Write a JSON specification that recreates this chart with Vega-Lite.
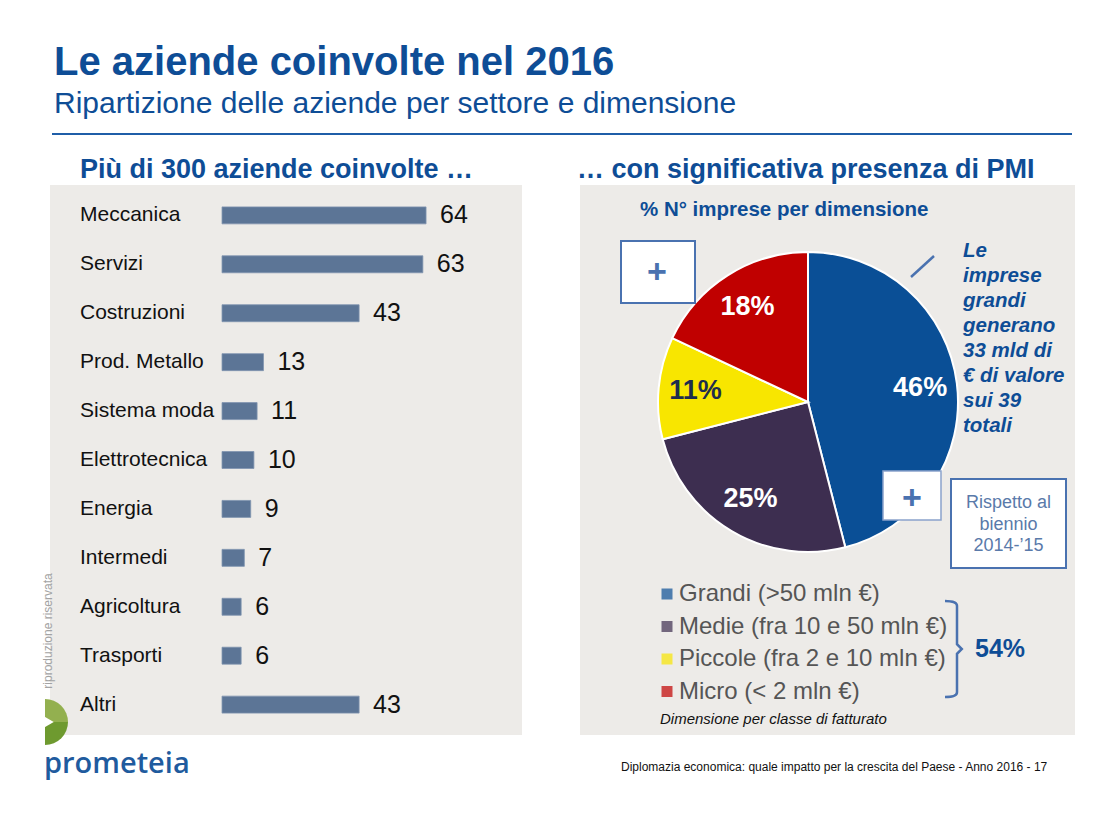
{
  "$schema": "https://vega.github.io/schema/vega-lite/v6.json",
  "background": "white",
  "autosize": {"type": "pad"},
  "padding": {"left": 42, "top": 43, "right": 0, "bottom": 20},
  "config": {"font": "Liberation Sans", "view": {"stroke": null}},
  "title": {
    "text": "Le aziende coinvolte nel 2016",
    "subtitle": "Ripartizione delle aziende per settore e dimensione",
    "anchor": "start", "frame": "group", "dx": 4,
    "font": "Liberation Sans", "fontSize": 40, "fontWeight": "bold", "color": "#0e4d96",
    "subtitleFont": "Liberation Sans", "subtitleFontSize": 30, "subtitleColor": "#0e4d96",
    "subtitlePadding": 6, "offset": 14
  },
  "datasets": {
    "sectors": [
      {"settore": "Meccanica", "n": 64},
      {"settore": "Servizi", "n": 63},
      {"settore": "Costruzioni", "n": 43},
      {"settore": "Prod. Metallo", "n": 13},
      {"settore": "Sistema moda", "n": 11},
      {"settore": "Elettrotecnica", "n": 10},
      {"settore": "Energia", "n": 9},
      {"settore": "Intermedi", "n": 7},
      {"settore": "Agricoltura", "n": 6},
      {"settore": "Trasporti", "n": 6},
      {"settore": "Altri", "n": 43}
    ],
    "sizes": [
      {"dimensione": "Grandi (>50 mln €)", "pct": 0.46, "ord": 1},
      {"dimensione": "Medie (fra 10 e 50 mln €)", "pct": 0.25, "ord": 2},
      {"dimensione": "Piccole (fra 2 e 10 mln €)", "pct": 0.11, "ord": 3},
      {"dimensione": "Micro (< 2 mln €)", "pct": 0.18, "ord": 4}
    ]
  },
  "vconcat": [
    {
      "width": 1022, "height": 2,
      "data": {"values": [{}]},
      "mark": {"type": "rule", "color": "#1f5ea8", "strokeWidth": 2},
      "encoding": {"x": {"value": 2}, "x2": {"value": 1022}, "y": {"value": 1}}
    },
    {
      "hconcat": [
        {
          "width": 472, "height": 550,
          "view": {"fill": "#edebe8", "stroke": null},
          "title": {"text": "Più di 300 aziende coinvolte …", "anchor": "start", "frame": "group", "dx": 30, "offset": 1,
                    "font": "Liberation Sans", "fontSize": 27, "fontWeight": "bold", "color": "#0e4d96"},
          "layer": [
            {
              "data": {"name": "sectors"},
              "mark": {"type": "bar", "color": "#5c7596", "stroke": "#8094b0", "strokeWidth": 0.8},
              "encoding": {
                "y": {"field": "settore", "type": "nominal", "sort": null, "axis": null,
                      "scale": {"paddingInner": 0.653, "paddingOuter": 0.4475}},
                "x": {"field": "n", "type": "quantitative", "axis": null,
                      "scale": {"domain": [-53.96, 94.1], "nice": false, "zero": false}},
                "x2": {"datum": 0}
              }
            },
            {
              "data": {"name": "sectors"},
              "mark": {"type": "text", "align": "left", "baseline": "middle", "fontSize": 21, "color": "#111111"},
              "encoding": {
                "y": {"field": "settore", "type": "nominal", "sort": null},
                "x": {"datum": -44.55, "type": "quantitative"},
                "text": {"field": "settore"}
              }
            },
            {
              "data": {"name": "sectors"},
              "mark": {"type": "text", "align": "left", "baseline": "middle", "dx": 14, "fontSize": 25, "color": "#111111"},
              "encoding": {
                "y": {"field": "settore", "type": "nominal", "sort": null},
                "x": {"field": "n", "type": "quantitative"},
                "text": {"field": "n", "type": "quantitative"}
              }
            },
            {
              "data": {"values": [{}]},
              "mark": {"type": "text", "angle": 270, "align": "center", "baseline": "middle",
                       "fontSize": 12, "color": "#a3a3a3", "text": "riproduzione riservata"},
              "encoding": {"x": {"value": -2}, "y": {"value": 446}}
            },
            {
              "data": {"values": [{}]},
              "mark": {"type": "arc", "outerRadius": 23, "theta": 0, "theta2": 1.5708, "color": "#93b04f"},
              "encoding": {"x": {"value": -5}, "y": {"value": 537}}
            },
            {
              "data": {"values": [{}]},
              "mark": {"type": "arc", "outerRadius": 23, "theta": 1.5708, "theta2": 3.1416, "color": "#6e9a2f"},
              "encoding": {"x": {"value": -5}, "y": {"value": 537}}
            },
            {
              "data": {"values": [{}]},
              "mark": {"type": "point", "shape": "triangle-right", "size": 120, "filled": true, "color": "white", "opacity": 1},
              "encoding": {"x": {"value": -1}, "y": {"value": 537}}
            },
            {
              "data": {"values": [{}]},
              "mark": {"type": "text", "align": "left", "baseline": "alphabetic",
                       "font": "Open Sans", "fontWeight": 600, "fontSize": 29, "color": "#1f5b9e", "text": "prometeia"},
              "encoding": {"x": {"value": -6}, "y": {"value": 588}}
            }
          ]
        },
        {
          "width": 495, "height": 550,
          "view": {"fill": "#edebe8", "stroke": null},
          "title": {"text": "… con significativa presenza di PMI", "anchor": "start", "frame": "group", "dx": -3, "offset": 1,
                    "font": "Liberation Sans", "fontSize": 27, "fontWeight": "bold", "color": "#0e4d96"},
          "layer": [
            {
              "data": {"name": "sizes"},
              "mark": {"type": "arc", "outerRadius": 150, "stroke": "white", "strokeWidth": 2},
              "encoding": {
                "x": {"value": 228}, "y": {"value": 217},
                "theta": {"field": "pct", "type": "quantitative", "stack": true},
                "order": {"field": "ord", "type": "quantitative"},
                "color": {
                  "field": "dimensione", "type": "nominal",
                  "scale": {
                    "domain": ["Grandi (>50 mln €)", "Medie (fra 10 e 50 mln €)", "Piccole (fra 2 e 10 mln €)", "Micro (< 2 mln €)"],
                    "range": ["#0a4f96", "#3d2e50", "#f8e600", "#c00000"]
                  },
                  "legend": {
                    "orient": "none", "legendX": 605, "legendY": 449, "title": null, "padding": 0,
                    "symbolType": "square", "symbolSize": 121, "symbolOpacity": 0.7, "symbolStrokeWidth": 0,
                    "labelFont": "Liberation Sans", "labelFontSize": 24, "labelColor": "#555555",
                    "labelOffset": 0, "rowPadding": 8.5, "labelLimit": 400
                  }
                }
              }
            },
            {
              "data": {"name": "sizes"},
              "mark": {"type": "text", "radius": 113, "fontSize": 27, "fontWeight": "bold",
                       "align": "center", "baseline": "middle"},
              "encoding": {
                "x": {"value": 228}, "y": {"value": 217},
                "theta": {"field": "pct", "type": "quantitative", "stack": true},
                "order": {"field": "ord", "type": "quantitative"},
                "text": {"field": "pct", "type": "quantitative", "format": ".0%"},
                "color": {"condition": {"test": "datum.ord === 3", "value": "#1e2d4e"}, "value": "white"}
              }
            },
            {
              "data": {"values": [{}]},
              "mark": {"type": "text", "align": "left", "baseline": "alphabetic", "fontSize": 20.5,
                       "fontWeight": "bold", "color": "#0e4d96", "text": "% N° imprese per dimensione"},
              "encoding": {"x": {"value": 60}, "y": {"value": 31}}
            },
            {
              "data": {"values": [{}]},
              "mark": {"type": "rect", "fill": "white", "stroke": "#4a72b0", "strokeWidth": 2},
              "encoding": {"x": {"value": 41}, "x2": {"value": 115}, "y": {"value": 56}, "y2": {"value": 118}}
            },
            {
              "data": {"values": [{}]},
              "mark": {"type": "text", "align": "center", "baseline": "middle", "fontSize": 34,
                       "fontWeight": "bold", "color": "#4a72b0", "text": "+"},
              "encoding": {"x": {"value": 77}, "y": {"value": 88}}
            },
            {
              "data": {"values": [{}]},
              "mark": {"type": "rule", "color": "#4a72b0", "strokeWidth": 2.5},
              "encoding": {"x": {"value": 331}, "y": {"value": 92}, "x2": {"value": 354}, "y2": {"value": 71}}
            },
            {
              "data": {"values": [{}]},
              "mark": {"type": "text", "align": "left", "baseline": "alphabetic", "fontSize": 20.5,
                       "fontWeight": "bold", "fontStyle": "italic", "lineHeight": 25, "color": "#0e4d96",
                       "text": ["Le", "imprese", "grandi", "generano", "33 mld di", "€ di valore", "sui 39", "totali"]},
              "encoding": {"x": {"value": 383}, "y": {"value": 72}}
            },
            {
              "data": {"values": [{}]},
              "mark": {"type": "rect", "fill": "white", "stroke": "#8ba3cc", "strokeWidth": 1.5},
              "encoding": {"x": {"value": 303}, "x2": {"value": 361}, "y": {"value": 286}, "y2": {"value": 335}}
            },
            {
              "data": {"values": [{}]},
              "mark": {"type": "text", "align": "center", "baseline": "middle", "fontSize": 34,
                       "fontWeight": "bold", "color": "#4a72b0", "text": "+"},
              "encoding": {"x": {"value": 332}, "y": {"value": 314}}
            },
            {
              "data": {"values": [{}]},
              "mark": {"type": "rect", "fill": "white", "stroke": "#4a72b0", "strokeWidth": 2},
              "encoding": {"x": {"value": 371}, "x2": {"value": 486}, "y": {"value": 294}, "y2": {"value": 383}}
            },
            {
              "data": {"values": [{}]},
              "mark": {"type": "text", "align": "center", "baseline": "middle", "fontSize": 18,
                       "lineHeight": 21.5, "color": "#5a7aaa", "text": ["Rispetto al", "biennio", "2014-’15"]},
              "encoding": {"x": {"value": 428.5}, "y": {"value": 318}}
            },
            {
              "data": {"values": [{}]},
              "mark": {"type": "point", "shape": "M-0.25,-1Q0,-1 0,-0.9L0,-0.1L0.1,0L0,0.1L0,0.9Q0,1 -0.25,1",
                       "size": 9216, "filled": false, "color": "#4a72b0", "strokeWidth": 2.5, "opacity": 1},
              "encoding": {"x": {"value": 377}, "y": {"value": 464}}
            },
            {
              "data": {"values": [{}]},
              "mark": {"type": "text", "align": "left", "baseline": "alphabetic", "fontSize": 25,
                       "fontWeight": "bold", "color": "#0e4d96", "text": "54%"},
              "encoding": {"x": {"value": 395}, "y": {"value": 472}}
            },
            {
              "data": {"values": [{}]},
              "mark": {"type": "text", "align": "left", "baseline": "alphabetic", "fontSize": 15,
                       "fontStyle": "italic", "color": "#111111", "text": "Dimensione per classe di fatturato"},
              "encoding": {"x": {"value": 80}, "y": {"value": 539}}
            },
            {
              "data": {"values": [{}]},
              "mark": {"type": "text", "align": "left", "baseline": "alphabetic", "fontSize": 12,
                       "color": "#111111", "text": "Diplomazia economica: quale impatto per la crescita del Paese - Anno 2016  - 17"},
              "encoding": {"x": {"value": 41}, "y": {"value": 586}}
            }
          ]
        }
      ],
      "spacing": 55
    }
  ],
  "spacing": 21
}
